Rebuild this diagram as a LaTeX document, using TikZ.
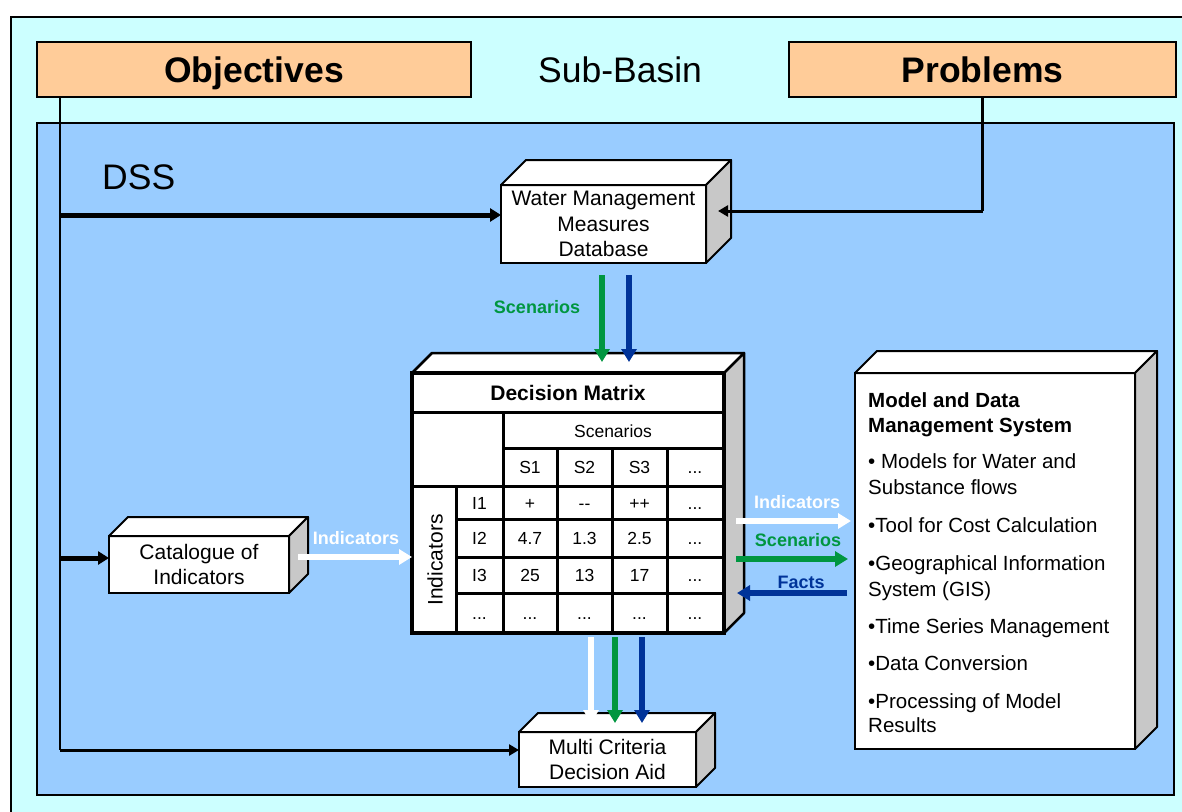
\documentclass[tikz,border=0pt]{standalone}
\usepackage{fontspec}
\setmainfont{Liberation Sans}
\usetikzlibrary{arrows.meta}
\definecolor{subbasin}{HTML}{CCFFFF}
\definecolor{dssarea}{HTML}{99CCFF}
\definecolor{peach}{HTML}{FFCC99}
\definecolor{sidegray}{HTML}{C8C8C8}
\definecolor{flowgreen}{RGB}{0,150,64}
\definecolor{flowblue}{RGB}{0,51,153}

% top and right faces of a solid box whose front face is node #1
\newcommand\solidfaces[3]{%
  \filldraw[fill=white, line width=#3, line join=round]
    (#1.north west) -- ++(#2,-#2) -- ([shift={(#2,-#2)}]#1.north east) -- (#1.north east) -- cycle;
  \filldraw[fill=sidegray, line width=#3, line join=round]
    (#1.north east) -- ++(#2,-#2) -- ([shift={(#2,-#2)}]#1.south east) -- (#1.south east) -- cycle;
}

\begin{document}
\begin{tikzpicture}[x=1pt,y=-1pt,
  ttl/.style={draw, fill=peach, line width=1.5pt, minimum height=55pt, inner sep=0pt,
              text height=25.5pt, text depth=0pt,
              font=\bfseries\fontsize{35.5}{40}\selectfont},
  big/.style={inner sep=0pt, font=\fontsize{35.5}{40}\selectfont},
  front/.style={draw, fill=white, line width=2pt, outer sep=0pt, inner sep=0pt,
                align=center, font=\fontsize{21}{25.5}\selectfont},
  cell/.style={inner sep=0pt, text height=12.6pt, text depth=0pt,
               font=\fontsize{17.5}{20}\selectfont},
  lbl/.style={inner sep=0pt, font=\bfseries\fontsize{18}{20}\selectfont},
  mdline/.style={anchor=base west, inner sep=0pt, font=\fontsize{20.5}{24}\selectfont},
  mdhead/.style={mdline, font=\bfseries\fontsize{20.5}{24}\selectfont},
  feed/.style={line width=5pt, -{Triangle[width=13pt,length=11pt]}},
  feedthin/.style={line width=3pt, -{Triangle[width=11pt,length=10pt]}},
  flow/.style={line width=5.5pt, -{Triangle[width=15pt,length=13pt]}},
  gridline/.style={line width=3pt}
]
\useasboundingbox (0,0) rectangle (1182,811);
\clip (0,0) rectangle (1182,811);

% sub-basin frame and DSS area
\filldraw[fill=subbasin, line width=1.5pt] (11,17) rectangle (1200,830);
\filldraw[fill=dssarea, line width=1.5pt] (37,123) rectangle (1174,795);

% header boxes
\node[ttl, minimum width=434pt] (obj) at (254,69.5) {Objectives};
\node[ttl, minimum width=387pt] (prob) at (982.5,69.5) {Problems};
\node[big] (sub) at (620,70) {Sub-Basin};
\node[big, anchor=west] (dss) at (102,177) {DSS};

% solid boxes
\node[front, minimum width=205pt, minimum height=78pt] (wmd) at (603.5,224)
  {Water Management\\Measures\\Database};
\solidfaces{wmd}{25}{2pt}

\node[front, minimum width=180pt, minimum height=57pt] (cat) at (199,564.5)
  {Catalogue of\\Indicators};
\solidfaces{cat}{19}{2pt}

\node[front, minimum width=177pt, minimum height=55pt] (mcda) at (607.5,759.5)
  {Multi Criteria\\Decision Aid};
\solidfaces{mcda}{19}{2pt}

\node[front, minimum width=280pt, minimum height=376pt] (md) at (995,561) {};
\solidfaces{md}{22}{2pt}

\node[front, line width=3.5pt, minimum width=312pt, minimum height=260pt] (dm) at (568,503) {};
\solidfaces{dm}{20}{2.5pt}

% decision matrix grid
\draw[gridline] (412,412) -- (724,412);
\draw[gridline] (503,448) -- (724,448);
\draw[gridline] (412,486) -- (724,486);
\foreach \yy in {519,557,593} \draw[gridline] (456,\yy) -- (724,\yy);
\draw[gridline] (503,412) -- (503,633);
\draw[gridline] (456,486) -- (456,633);
\foreach \xx in {557,612,667} \draw[gridline] (\xx,448) -- (\xx,633);
\draw[line width=3.5pt] (412,373) rectangle (724,633);

% decision matrix texts
\node[inner sep=0pt, font=\bfseries\fontsize{21}{24}\selectfont] (dmt) at (568,393) {Decision Matrix};
\node[cell] (scn) at (613,431) {Scenarios};
\node[cell] (s1) at (530,467) {S1};
\node[cell] (s2) at (584.5,467) {S2};
\node[cell] (s3) at (639.5,467) {S3};
\node[cell] (s4) at (695,467) {...};
\node[inner sep=0pt, rotate=90, font=\fontsize{21}{24}\selectfont] (ind) at (435,560) {Indicators};
\node[cell] (i1) at (479.5,503) {I1};
\node[cell] (i2) at (479.5,538) {I2};
\node[cell] (i3) at (479.5,575) {I3};
\node[cell] (i4) at (479.5,613) {...};
\node[cell] (c11) at (530,503) {+};
\node[cell] (c12) at (584.5,503) {{-}{-}};
\node[cell] (c13) at (639.5,503) {++};
\node[cell] (c14) at (695,503) {...};
\node[cell] (c21) at (530,538) {4.7};
\node[cell] (c22) at (584.5,538) {1.3};
\node[cell] (c23) at (639.5,538) {2.5};
\node[cell] (c24) at (695,538) {...};
\node[cell] (c31) at (530,575) {25};
\node[cell] (c32) at (584.5,575) {13};
\node[cell] (c33) at (639.5,575) {17};
\node[cell] (c34) at (695,575) {...};
\node[cell] (c41) at (530,613) {...};
\node[cell] (c42) at (584.5,613) {...};
\node[cell] (c43) at (639.5,613) {...};
\node[cell] (c44) at (695,613) {...};

% model and data management system
\node[mdhead] (md1) at (868,407) {Model and Data};
\node[mdhead] (md2) at (868,432) {Management System};
\node[mdline] (md3) at (868,468) {\textbullet\ Models for Water and};
\node[mdline] (md4) at (868,494) {Substance flows};
\node[mdline] (md5) at (868,532) {\textbullet Tool for Cost Calculation};
\node[mdline] (md6) at (868,570) {\textbullet Geographical Information};
\node[mdline] (md7) at (868,596) {System (GIS)};
\node[mdline] (md8) at (868,633) {\textbullet Time Series Management};
\node[mdline] (md9) at (868,670) {\textbullet Data Conversion};
\node[mdline] (md10) at (868,708) {\textbullet Processing of Model};
\node[mdline] (md11) at (868,732) {Results};

% objectives feed the DSS
\coordinate (ob) at ([xshift=24pt]obj.south west);
\coordinate (wIn) at ([yshift=9pt]wmd.west);
\coordinate (cIn) at ([yshift=6.5pt]cat.west);
\coordinate (mIn) at ([yshift=9.5pt]mcda.west);
\draw[line width=2pt] (ob) -- (ob |- mIn);
\draw[feed] (ob |- wIn) -- (wIn);
\draw[feed] (ob |- cIn) -- (cIn);
\draw[feedthin] (ob |- mIn) -- (mIn);

% problems feed the measures database
\coordinate (pIn) at ([shift={(12,-13)}]wmd.east);
\draw[line width=3pt] (prob.south) -- (prob.south |- pIn);
\draw[feedthin] (prob.south |- pIn) -- (pIn);

% scenarios from the database
\draw[flow, flowgreen] ([shift={(-1.5,12)}]wmd.south) -- ([shift={(34,-11)}]dm.north);
\draw[flow, flowblue] ([shift={(25.5,12)}]wmd.south) -- ([shift={(61,-11)}]dm.north);
\node[lbl, text=flowgreen] (lscn) at (537,307) {Scenarios};

% indicators from the catalogue
\draw[flow, white] ([shift={(9,-7.5)}]cat.east) -- ([yshift=-54pt]dm.west);
\node[lbl, text=white] (lind) at (356,538) {Indicators};

% exchange with the model and data management system
\draw[flow, white] ([shift={(12,18)}]dm.east) -- ([shift={(-4,-40)}]md.west);
\draw[flow, flowgreen] ([shift={(12,56)}]dm.east) -- ([shift={(-7,-2)}]md.west);
\draw[flow, flowblue] ([shift={(-8,32)}]md.west) -- ([shift={(13,90)}]dm.east);
\node[lbl, text=white] (rind) at (797,502) {Indicators};
\node[lbl, text=flowgreen] (rscn) at (798,540) {Scenarios};
\node[lbl, text=flowblue] (rfct) at (801,582) {Facts};

% results to the decision aid
\draw[flow, white] ([shift={(23,4)}]dm.south) -- ([shift={(-16.5,-9)}]mcda.north);
\draw[flow, flowgreen] ([shift={(47,4)}]dm.south) -- ([shift={(7.5,-9)}]mcda.north);
\draw[flow, flowblue] ([shift={(74,4)}]dm.south) -- ([shift={(34.5,-9)}]mcda.north);
\end{tikzpicture}
\end{document}
